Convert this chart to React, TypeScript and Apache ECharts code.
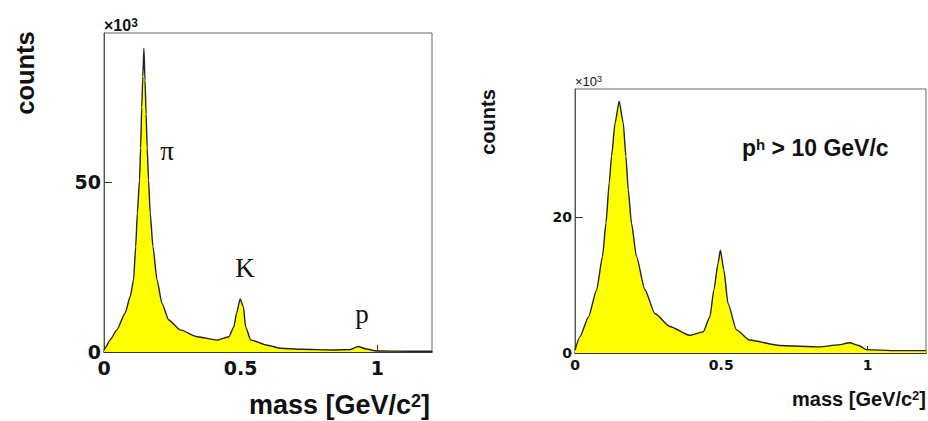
import React, { useEffect, useRef } from "react";
import * as echarts from "echarts";

// Left panel: all momenta (counts in 10^3)
const leftMass = [0, 0.004, 0.022, 0.047, 0.077, 0.096, 0.108, 0.116, 0.122, 0.13, 0.134, 0.138, 0.142, 0.146, 0.15, 0.154, 0.158, 0.163, 0.169, 0.179, 0.194, 0.212, 0.237, 0.279, 0.341, 0.414, 0.457, 0.475, 0.485, 0.498, 0.51, 0.518, 0.537, 0.598, 0.647, 0.72, 0.84, 0.9, 0.929, 0.96, 0.996, 1.05, 1.2];
const leftCounts = [0.5, 1.1, 3.5, 6.5, 11.4, 16.3, 21.2, 31.0, 40.9, 50.6, 60.0, 72.0, 81.0, 89.3, 80.0, 70.0, 60.0, 50.6, 40.9, 31.0, 21.2, 14.3, 9.4, 6.5, 4.5, 3.5, 4.5, 7.4, 11.4, 15.6, 13.3, 7.4, 3.5, 2.0, 1.1, 0.8, 0.6, 0.7, 1.6, 0.9, 0.3, 0.25, 0.2];

// Right panel: p^h > 10 GeV/c (counts in 10^3)
const rightMass = [0, 0.017, 0.046, 0.074, 0.094, 0.106, 0.117, 0.125, 0.137, 0.151, 0.165, 0.174, 0.182, 0.193, 0.21, 0.239, 0.273, 0.324, 0.392, 0.438, 0.461, 0.475, 0.489, 0.497, 0.509, 0.523, 0.552, 0.597, 0.7, 0.836, 0.9, 0.939, 0.97, 0.996, 1.098, 1.2];
const rightCounts = [0.4, 2.4, 5.3, 9.3, 14.2, 19.1, 25.0, 28.9, 33.8, 37.0, 33.8, 28.9, 24.0, 19.1, 14.2, 9.3, 5.8, 3.9, 2.6, 3.1, 5.3, 9.3, 13.2, 15.1, 12.2, 7.3, 3.4, 1.9, 1.1, 0.9, 1.2, 1.5, 1.1, 0.5, 0.35, 0.35];

const xTicks = [0, 0.5, 1];
const leftYTicks = [0, 50];
const rightYTicks = [0, 20];

const FONT = "DejaVu Sans";
const TITLE = "Liberation Sans";
const SERIF = "Liberation Serif";

export default function App() {
  const ref = useRef<HTMLDivElement>(null);
  useEffect(() => {
    if (!ref.current) return;
    const chart = echarts.init(ref.current, null, { renderer: "svg" });
    const toPairs = (xs: number[], ys: number[]) => xs.map((x, i) => [x, ys[i]]);
    const xAxisBase = (gridIndex: number, fs: number, margin: number) => ({
      type: "value",
      gridIndex,
      min: 0,
      max: 1.2,
      axisLine: { show: true, lineStyle: { color: "#111", width: 1.5 } },
      axisTick: { show: true, inside: true, length: 7, customValues: xTicks, lineStyle: { color: "#333" } },
      axisLabel: {
        customValues: xTicks,
        fontFamily: FONT,
        fontWeight: "bold",
        fontSize: fs,
        color: "#111",
        margin,
      },
      splitLine: { show: false },
    });
    const yAxisBase = (gridIndex: number, max: number, ticks: number[], fs: number) => ({
      type: "value",
      gridIndex,
      min: 0,
      max,
      axisLine: { show: true, lineStyle: { color: "#555", width: 1 } },
      axisTick: { show: true, inside: true, length: 8, customValues: ticks, lineStyle: { color: "#333" } },
      axisLabel: {
        customValues: ticks,
        fontFamily: FONT,
        fontWeight: "bold",
        fontSize: fs,
        color: "#111",
        margin: 3,
      },
      splitLine: { show: false },
    });
    const seriesBase = (idx: number, data: number[][]) => ({
      type: "line",
      xAxisIndex: idx,
      yAxisIndex: idx,
      data,
      showSymbol: false,
      symbol: "none",
      smooth: 0.2,
      smoothMonotone: "x",
      lineStyle: { color: "#222", width: 1.4 },
      areaStyle: { color: "#ffff00", opacity: 1 },
      clip: true,
    });
    const txt = (x: number, y: number, text: string, size: number, opts: any = {}) => ({
      type: "text",
      x,
      y,
      rotation: opts.rotation || 0,
      style: {
        text,
        fontFamily: opts.family || TITLE,
        fontWeight: opts.weight || "bold",
        fontSize: size,
        textAlign: opts.align || "left",
        textVerticalAlign: "middle",
        fill: "#111",
        rich: opts.rich,
      },
    });
    const sup = (size: number) => ({
      s: { fontFamily: TITLE, fontWeight: "bold", fontSize: size, verticalAlign: "top", fill: "#111" },
    });
    chart.setOption({
      animation: false,
      grid: [
        { left: 104, top: 33, width: 328, height: 319, show: true, borderColor: "#666", borderWidth: 1, containLabel: false },
        { left: 575, top: 89, width: 351, height: 264, show: true, borderColor: "#666", borderWidth: 1, containLabel: false },
      ],
      xAxis: [xAxisBase(0, 19, 6), xAxisBase(1, 14, 5)],
      yAxis: [yAxisBase(0, 93.8, leftYTicks, 19), yAxisBase(1, 38.8, rightYTicks, 14)],
      series: [seriesBase(0, toPairs(leftMass, leftCounts)), seriesBase(1, toPairs(rightMass, rightCounts))],
      graphic: [
        txt(25, 73, "counts", 25.5, { rotation: Math.PI / 2, align: "center" }),
        txt(104, 25, "×10{s|3}", 16, { rich: sup(12) }),
        txt(430, 405, "mass [GeV/c{s|2}]", 27, { align: "right", rich: sup(18) }),
        txt(167, 151, "π", 27, { family: SERIF, weight: "normal", align: "center" }),
        txt(245, 268, "K", 27, { family: SERIF, weight: "normal", align: "center" }),
        txt(362, 314, "p", 27, { family: SERIF, weight: "normal", align: "center" }),
        txt(488, 122, "counts", 20, { rotation: Math.PI / 2, align: "center" }),
        txt(575, 81, "×10{s|3}", 13, { weight: "normal", rich: { s: { fontFamily: TITLE, fontSize: 9, verticalAlign: "top", fill: "#111" } } }),
        txt(742, 148, "p{s|h} > 10 GeV/c", 23, { rich: sup(15) }),
        txt(926, 399, "mass [GeV/c{s|2}]", 20, { align: "right", rich: sup(13) }),
      ],
    });
    return () => chart.dispose();
  }, []);
  return (
    <div
      ref={ref}
      style={{ position: "fixed", left: 0, top: 0, width: 928, height: 421, background: "#fff" }}
    />
  );
}
